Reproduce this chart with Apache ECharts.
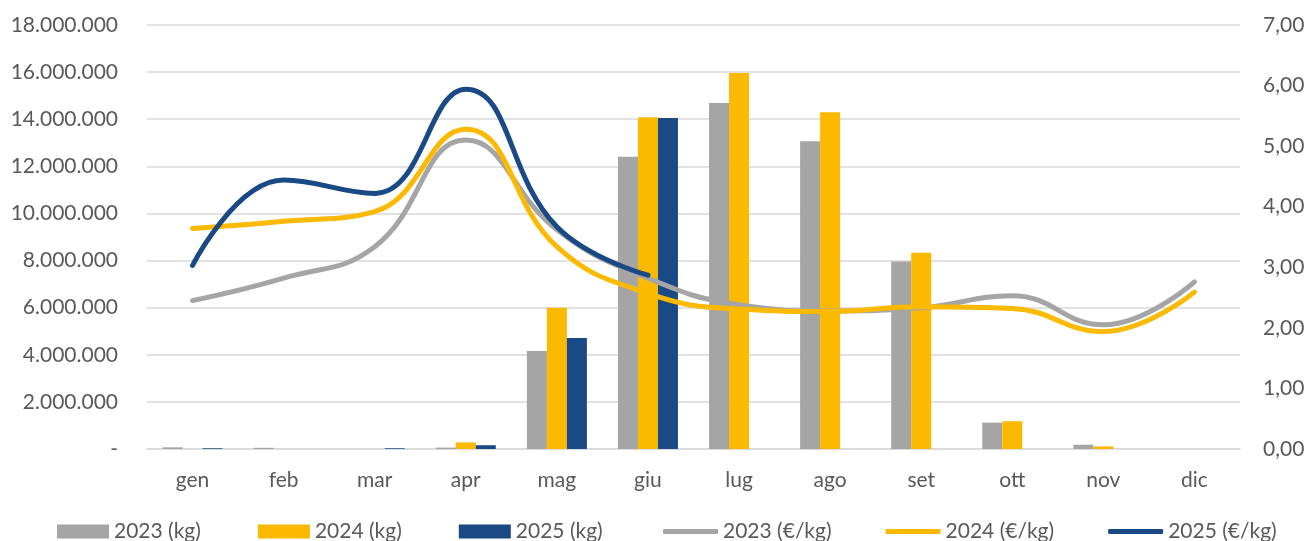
<!DOCTYPE html>
<html>
<head>
<meta charset="utf-8">
<script src="https://cdn.jsdelivr.net/npm/echarts@6/dist/echarts.min.js"></script>
<style>
html,body{margin:0;padding:0;background:#fff;}
#chart{width:1310px;height:541px;}
</style>
</head>
<body>
<div id="chart"></div>
<script>
const categories = ['gen','feb','mar','apr','mag','giu','lug','ago','set','ott','nov','dic'];
const kg2023 = [70000, 50000, 0, 60000, 4160000, 12410000, 14690000, 13070000, 7960000, 1120000, 180000, null];
const kg2024 = [0, 0, 0, 280000, 6000000, 14080000, 15960000, 14300000, 8330000, 1180000, 110000, null];
const kg2025 = [30000, 0, 30000, 160000, 4710000, 14050000, null, null, null, null, null, null];
const price2023 = [2.45, 2.82, 3.34, 5.10, 3.62, 2.82, 2.38, 2.28, 2.33, 2.53, 2.05, 2.76];
const price2024 = [3.64, 3.76, 3.92, 5.28, 3.34, 2.57, 2.31, 2.27, 2.35, 2.32, 1.94, 2.59];
const price2025 = [3.03, 4.44, 4.22, 5.94, 3.67, 2.87, null, null, null, null, null, null];
const leftTicks = {min: 0, max: 18000000, interval: 2000000};
const rightTicks = {min: 0, max: 7, interval: 1};

const GRAY = '#A5A5A5', YELLOW = '#FBB900', BLUE = '#1A4A86';
const TXT = '#595959';
const FONT = 'Lato';
const FS = 21;

function fmtKg(v){
  if (v === 0) return '-';
  return String(Math.round(v)).replace(/\B(?=(\d{3})+(?!\d))/g, '.');
}
function fmtPrice(v){ return v.toFixed(2).replace('.', ','); }

const chart = echarts.init(document.getElementById('chart'), null, {renderer: 'canvas'});
const barSeries = (name, data, color) => ({
  name, type: 'bar', data, yAxisIndex: 0,
  barWidth: 20, barGap: '0%',
  itemStyle: {color}, emphasis: {disabled: true}
});
const lineSeries = (name, data, color) => ({
  name, type: 'line', data, yAxisIndex: 1,
  smooth: 0.45, symbol: 'none', showSymbol: false,
  connectNulls: false,
  lineStyle: {color, width: 5, cap: 'round', join: 'round'},
  itemStyle: {color}, emphasis: {disabled: true}, z: 3
});

chart.setOption({
  animation: false,
  textStyle: {fontFamily: FONT},
  grid: {left: 147, right: 70, top: 25, bottom: 92, containLabel: false},
  legend: [
    {
      top: 516, left: 52,
      itemWidth: 52, itemHeight: 14, itemGap: 57,
      textStyle: {color: TXT, fontSize: FS, fontFamily: FONT},
      data: [
        {name: '2023 (kg)', icon: 'rect'},
        {name: '2024 (kg)', icon: 'rect'},
        {name: '2025 (kg)', icon: 'rect'}
      ]
    },
    {
      top: 516, left: 658,
      itemWidth: 55, itemHeight: 5, itemGap: 54,
      textStyle: {color: TXT, fontSize: FS, fontFamily: FONT},
      data: [
        {name: '2023 (€/kg)', icon: 'roundRect'},
        {name: '2024 (€/kg)', icon: 'roundRect'},
        {name: '2025 (€/kg)', icon: 'roundRect'}
      ]
    }
  ],
  xAxis: {
    type: 'category', data: categories,
    axisLine: {show: true, lineStyle: {color: '#D9D9D9', width: 1.5}},
    axisTick: {show: false},
    axisLabel: {color: TXT, fontSize: FS, fontFamily: FONT, margin: 21}
  },
  yAxis: [
    {
      type: 'value', min: leftTicks.min, max: leftTicks.max, interval: leftTicks.interval,
      axisLine: {show: false}, axisTick: {show: false},
      splitLine: {lineStyle: {color: '#D9D9D9', width: 1.5}},
      axisLabel: {color: TXT, fontSize: FS, fontFamily: FONT, margin: 29, formatter: fmtKg}
    },
    {
      type: 'value', min: rightTicks.min, max: rightTicks.max, interval: rightTicks.interval,
      axisLine: {show: false}, axisTick: {show: false},
      splitLine: {show: false},
      axisLabel: {color: TXT, fontSize: FS, fontFamily: FONT, margin: 23, formatter: fmtPrice}
    }
  ],
  series: [
    barSeries('2023 (kg)', kg2023, GRAY),
    barSeries('2024 (kg)', kg2024, YELLOW),
    barSeries('2025 (kg)', kg2025, BLUE),
    lineSeries('2023 (€/kg)', price2023, GRAY),
    lineSeries('2024 (€/kg)', price2024, YELLOW),
    lineSeries('2025 (€/kg)', price2025, BLUE)
  ]
});
</script>
</body>
</html>
